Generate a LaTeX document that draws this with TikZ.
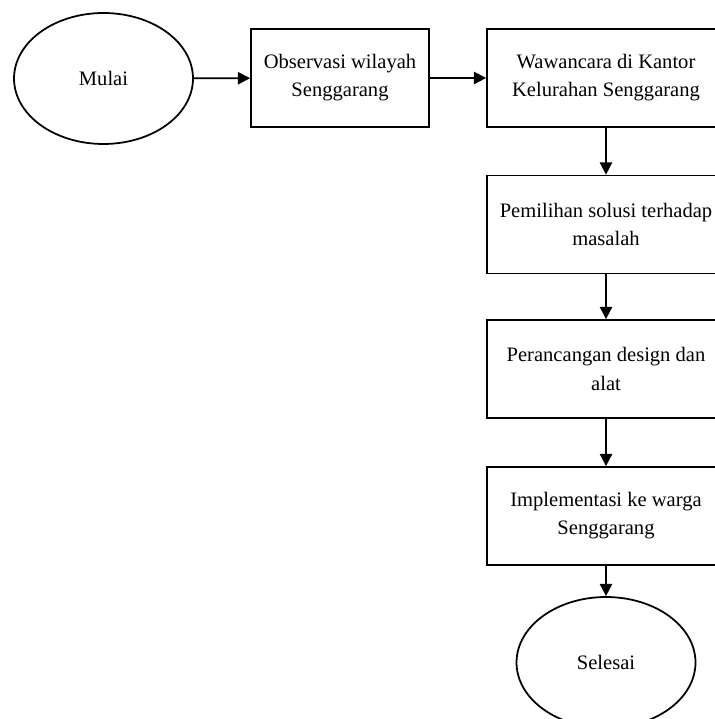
\documentclass[tikz,border=0pt]{standalone}
\usepackage{fontspec}
\setmainfont{Liberation Serif}
\usetikzlibrary{arrows.meta,shapes.geometric}
\tikzset{
  txt/.style={font=\fontsize{11.7}{16}\selectfont,text=black},
  box/.style={txt,draw,line width=1pt,align=center,minimum height=1.96cm,inner sep=2pt},
  term/.style={txt,ellipse,draw,line width=1pt,minimum width=3.58cm,minimum height=2.62cm},
  flow/.style={-{Triangle[length=7pt,width=7pt]},line width=1pt}
}
\begin{document}
\begin{tikzpicture}[x=0.02cm,y=-0.02cm]
\useasboundingbox (0,0) rectangle (714,719);
\node[term] (mulai) at (103.5,78.5) {Mulai};
\node[box,minimum width=3.56cm] (obs) at (340,78) {Observasi wilayah\\Senggarang};
\node[box,minimum width=4.76cm] (waw) at (606,78) {Wawancara di Kantor\\Kelurahan Senggarang};
\node[box,minimum width=4.76cm] (pil) at (606,224.5) {Pemilihan solusi terhadap\\masalah};
\node[box,minimum width=4.76cm] (ran) at (606,369) {Perancangan design dan\\alat};
\node[box,minimum width=4.76cm] (imp) at (606,516) {Implementasi ke warga\\Senggarang};
\node[term] (sel) at (606,662.5) {Selesai};
\draw[flow] (mulai) -- (obs);
\draw[flow] (obs) -- (waw);
\foreach \a/\b in {waw/pil,pil/ran,ran/imp,imp/sel}
    \draw[flow] (\a) -- (\b);
\end{tikzpicture}
\end{document}
